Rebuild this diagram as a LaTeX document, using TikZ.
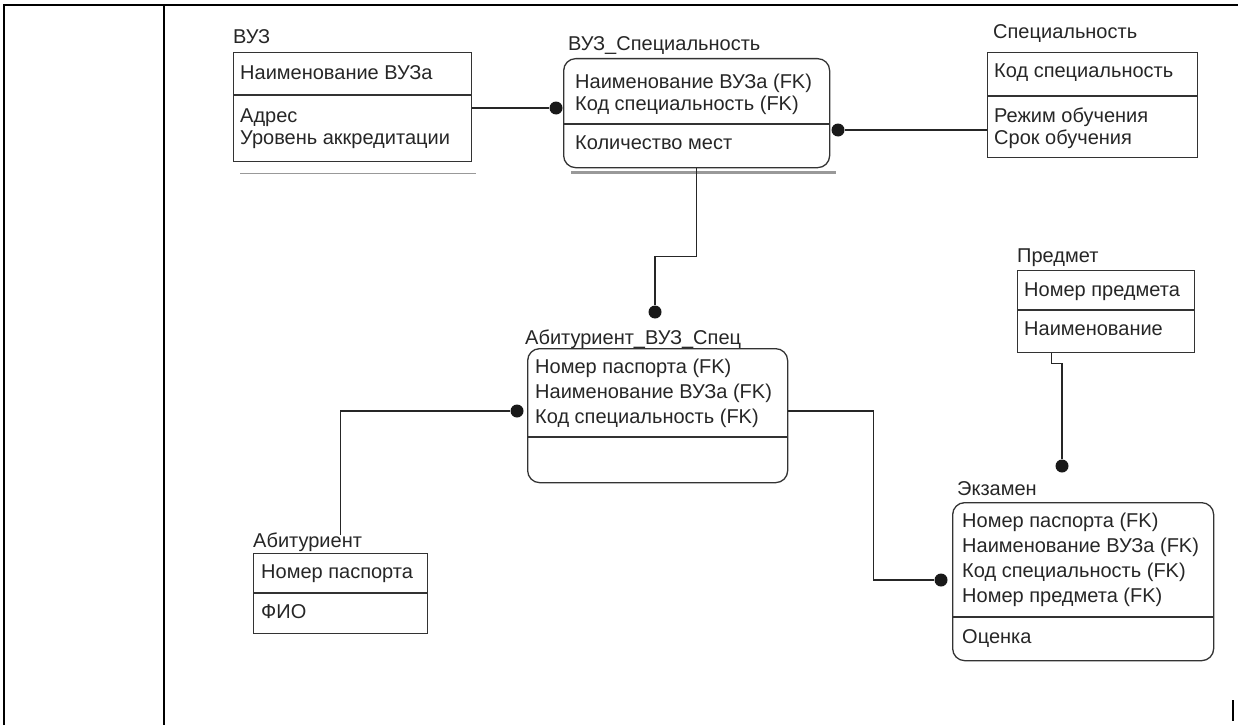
\documentclass[tikz,border=0pt]{standalone}
\usepackage{fontspec}
\setmainfont{Liberation Sans}
\usepackage{tikz}
\usetikzlibrary{positioning}

\begin{document}
\begin{tikzpicture}[x=1pt, y=-1pt,
                  every node/.style={inner sep=0pt, text=black!85,
                              font=\fontsize{20}{22}\selectfont},
                  entity/.style={draw=black!80, line width=1.3pt, anchor=north west},
                  depend/.style={entity, rounded corners=12pt},
                  enttitle/.style={anchor=base west},
                  rows/.style={anchor=north west, align=left},
                  wide/.style={font=\fontsize{20}{25}\selectfont},
                  divider/.style={draw=black!80, line width=1.3pt},
                  link/.style={draw=black!85, line width=1.2pt},
                  fkdot/.style={circle, fill=black!90, minimum size=13pt},
                  shade/.style={draw=black!40, line width=1.5pt},
            ]
            \useasboundingbox (0,0) rectangle (1238,725);

            % table cell frame
            \draw[line width=2.5pt] (4,725) -- (4,5) -- (177,5);
            \draw[line width=1.5pt] (177,5) -- (1238,5);
            \draw[line width=2.5pt] (164,5) -- (164,725);
            \draw[line width=2pt] (1233,700) -- (1233,721);

            % entities
            \node[entity, minimum width=238pt, minimum height=109pt] (vuz) at (233,52) {};
            \node[depend, minimum width=266pt, minimum height=109pt] (vuzspec) at (563,58) {};
            \node[entity, minimum width=210pt, minimum height=105pt] (spec) at (987,52) {};
            \node[entity, minimum width=177pt, minimum height=82pt] (predmet) at (1017,270) {};
            \node[depend, minimum width=260pt, minimum height=134pt] (abvuz) at (527,348) {};
            \node[entity, minimum width=174pt, minimum height=80pt] (abit) at (253,553) {};
            \node[depend, minimum width=261pt, minimum height=158pt] (exam) at (952,502) {};

            % titles
            \node[enttitle] at ([yshift=8pt]vuz.north west) {ВУЗ};
            \node[enttitle] at ([shift={(5,-7)}]vuzspec.north west) {ВУЗ\_Специальность};
            \node[enttitle] at ([shift={(6,-13)}]spec.north west) {Специальность};
            \node[enttitle] at ([yshift=8pt]predmet.north west) {Предмет};
            \node[enttitle] at ([shift={(-2,-4)}]abvuz.north west) {Абитуриент\_ВУЗ\_Спец};
            \node[enttitle] at ([yshift=6pt]abit.north west) {Абитуриент};
            \node[enttitle] at ([shift={(5,-7)}]exam.north west) {Экзамен};

            % dividers
            \draw[divider] ([yshift=-43pt]vuz.north west) -- ([yshift=-43pt]vuz.north east);
            \draw[divider] ([yshift=-66pt]vuzspec.north west) -- ([yshift=-66pt]vuzspec.north east);
            \draw[divider] ([yshift=-44pt]spec.north west) -- ([yshift=-44pt]spec.north east);
            \draw[divider] ([yshift=-40pt]predmet.north west) -- ([yshift=-40pt]predmet.north east);
            \draw[divider] ([yshift=-89pt]abvuz.north west) -- ([yshift=-89pt]abvuz.north east);
            \draw[divider] ([yshift=-40pt]abit.north west) -- ([yshift=-40pt]abit.north east);
            \draw[divider] ([yshift=-115pt]exam.north west) -- ([yshift=-115pt]exam.north east);

            % shadows
            \draw[shade] ([shift={(7,11)}]vuz.south west) -- ([shift={(4,11)}]vuz.south east);
            \draw[shade, line width=3pt] ([shift={(8,4)}]vuzspec.south west) -- ([shift={(6,4)}]vuzspec.south east);

            % attributes
            \node[rows] (vuzK) at ([shift={(7,13)}]vuz.north west) {Наименование ВУЗа};
            \node[rows] (vuzA) at ([shift={(7,57)}]vuz.north west) {Адрес\\Уровень аккредитации};
            \node[rows] (vuzspecK) at ([shift={(12,16)}]vuzspec.north west) {Наименование ВУЗа (FK)\\Код специальность (FK)};
            \node[rows] (vuzspecA) at ([shift={(12,78)}]vuzspec.north west) {Количество мест};
            \node[rows] (specK) at ([shift={(7,12)}]spec.north west) {Код специальность};
            \node[rows] (specA) at ([shift={(7,56)}]spec.north west) {Режим обучения\\Срок обучения};
            \node[rows] (predmetK) at ([shift={(7,13)}]predmet.north west) {Номер предмета};
            \node[rows] (predmetA) at ([shift={(7,52)}]predmet.north west) {Наименование};
            \node[rows, wide] (abvuzK) at ([shift={(8,11)}]abvuz.north west) {Номер паспорта (FK)\\Наименование ВУЗа (FK)\\Код специальность (FK)};
            \node[rows] (abitK) at ([shift={(8,12)}]abit.north west) {Номер паспорта};
            \node[rows] (abitA) at ([shift={(8,51)}]abit.north west) {ФИО};
            \node[rows, wide] (examK) at ([shift={(10,11)}]exam.north west) {Номер паспорта (FK)\\Наименование ВУЗа (FK)\\Код специальность (FK)\\Номер предмета (FK)};
            \node[rows] (examA) at ([shift={(10,127)}]exam.north west) {Оценка};

            % relationships
            \node[fkdot] (d1) at (556,108) {};
            \node[fkdot] (d2) at (838,130) {};
            \node[fkdot] (d3) at (655,312) {};
            \node[fkdot] (d4) at (517,411) {};
            \node[fkdot] (d5) at (941,580) {};
            \node[fkdot] (d6) at (1062,466) {};

            \draw[link] (vuz.east |- d1) -- (d1);
            \draw[link] (spec.west |- d2) -- (d2);
            \draw[link] (vuzspec.south) -- ++(0,88) -| (d3);
            \draw[link] ([yshift=18pt]abit.north) |- (d4);
            \draw[link] (abvuz.east |- d4) -- ++(85,0) |- (d5);
            \draw[link] ([xshift=-55pt]predmet.south) -- ++(0,10) -| (d6);
      \end{tikzpicture}
\end{document}
